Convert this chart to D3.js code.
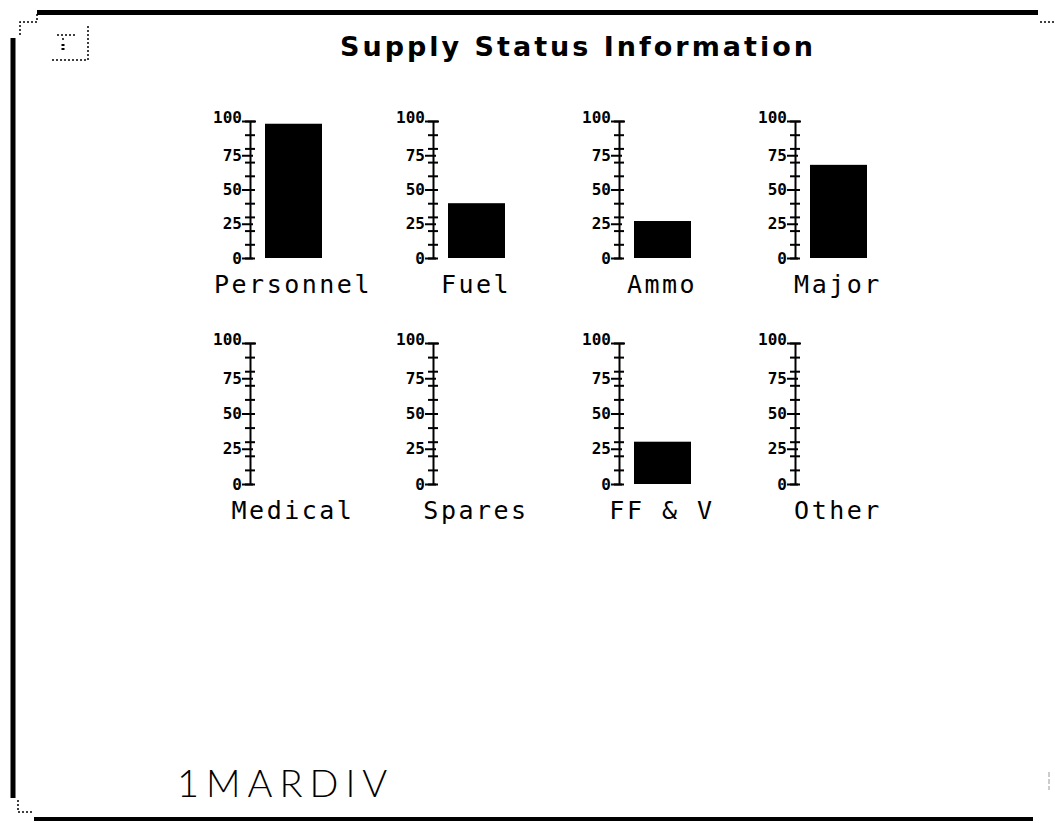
<!DOCTYPE html>
<html>
<head>
    <meta charset="utf-8">
    <style>
        body {
            margin: 0;
            background: white;
        }
        svg {
            display: block;
            background-color: white;
        }
        .title {
            font-family: 'DejaVu Sans', sans-serif;
            font-weight: bold;
            font-size: 27px;
            letter-spacing: 3px;
        }
        .cat {
            font-family: 'DejaVu Sans Mono', monospace;
            font-size: 25px;
            letter-spacing: 2.5px;
        }
        .axis text {
            font-family: 'DejaVu Sans Mono', monospace;
            font-weight: bold;
            font-size: 16px;
            letter-spacing: 0px;
            fill: black;
        }
        .axis line, .axis path {
            stroke: black;
            stroke-width: 2px;
        }
        .unit {
            font-family: Lato, 'Open Sans', sans-serif;
            font-weight: 300;
            font-size: 38px;
            letter-spacing: 7px;
        }
    </style>
</head>
<body>
    <svg width="1055" height="823" id="svg1"></svg>

<script src="https://d3js.org/d3.v7.min.js"></script>
<script>
    // supply levels, percent of requirement
    const categories = ["Personnel", "Fuel", "Ammo", "Major", "Medical", "Spares", "FF & V", "Other"]
    const values = [98, 40, 27, 68, 0, 0, 30, 0]
    const labelTicks = [0, 25, 50, 75, 100]
    const minorTicks = [0, 10, 20, 30, 40, 50, 60, 70, 80, 90, 100]
    const titleText = "Supply Status Information"
    const unitText = "1MARDIV"

    let svg1 = d3.select("#svg1")

    // frame round the window
    let frame = svg1.append("g")
    frame.append("line").attr("x1", 37).attr("x2", 1038).attr("y1", 12.5).attr("y2", 12.5)
        .attr("stroke", "black").attr("stroke-width", 5)
    frame.append("line").attr("x1", 13).attr("x2", 13).attr("y1", 38).attr("y2", 798)
        .attr("stroke", "black").attr("stroke-width", 5)
    frame.append("line").attr("x1", 34).attr("x2", 1033).attr("y1", 819).attr("y2", 819)
        .attr("stroke", "black").attr("stroke-width", 4)
    frame.append("path").attr("d", "M37,14 V22 H20 V37")
        .attr("fill", "none").attr("stroke", "black").attr("stroke-width", 1.5).attr("stroke-dasharray", "2,2")
    frame.append("path").attr("d", "M18,800 V812 H33")
        .attr("fill", "none").attr("stroke", "black").attr("stroke-width", 1.5).attr("stroke-dasharray", "2,2")
    frame.append("path").attr("d", "M1040,22 H1054")
        .attr("fill", "none").attr("stroke", "black").attr("stroke-width", 1.5).attr("stroke-dasharray", "2,2")
    frame.append("path").attr("d", "M1049,772 V790")
        .attr("fill", "none").attr("stroke", "#999").attr("stroke-width", 1).attr("stroke-dasharray", "5,2")

    // little window icon, top left
    let icon = svg1.append("g").attr("fill", "none").attr("stroke", "black")
        .attr("stroke-width", 1.5).attr("stroke-dasharray", "2,2")
    icon.append("path").attr("d", "M88,26 V60 H50")
    icon.append("path").attr("d", "M57,35 H77")
    icon.append("path").attr("d", "M63,38 V42")
    icon.append("line").attr("x1", 63).attr("x2", 63).attr("y1", 44).attr("y2", 50)
        .attr("stroke-dasharray", null).attr("stroke-width", 3)

    svg1.append("text")
        .attr("class", "title")
        .attr("x", 578)
        .attr("y", 56)
        .attr("text-anchor", "middle")
        .text(titleText)

    // panel layout
    let colX = [250, 433, 619, 795]
    let rowBottom = [258, 484]
    let rowHeight = [137, 141]
    let barOffset = 15, barWidth = 57

    categories.forEach((cat, i) => {
        let col = i % 4, row = Math.floor(i / 4)
        let ax = colX[col]
        let y = d3.scaleLinear()
            .domain([0, 100])
            .range([rowBottom[row], rowBottom[row] - rowHeight[row]])

        let g = svg1.append("g")

        // minor ticks every 10, crossing the axis
        g.append("g")
            .attr("class", "axis")
            .attr("transform", `translate(${ax},0)`)
            .call(d3.axisLeft(y).tickValues(minorTicks).tickSize(5).tickSizeOuter(0).tickFormat(""))
            .call(a => a.selectAll(".tick line").attr("x1", 5))

        // labelled ticks
        g.append("g")
            .attr("class", "axis")
            .attr("transform", `translate(${ax},0)`)
            .call(d3.axisLeft(y).tickValues(labelTicks).tickSize(8).tickSizeOuter(0).tickPadding(0))
            .call(a => a.select(".domain").remove())
            .call(a => a.selectAll(".tick line").attr("x1", d => d == 100 ? 6 : 3))
            .call(a => a.selectAll(".tick text").attr("dy", d => d == 100 ? "0.1em" : "0.32em"))

        g.append("rect")
            .attr("x", ax + barOffset)
            .attr("width", barWidth)
            .attr("y", y(values[i]))
            .attr("height", y(0) - y(values[i]))
            .attr("fill", "black")

        g.append("text")
            .attr("class", "cat")
            .attr("x", ax + 43)
            .attr("y", rowBottom[row] + 35)
            .attr("text-anchor", "middle")
            .text(cat)
    })

    svg1.append("text")
        .attr("class", "unit")
        .attr("x", 177)
        .attr("y", 797)
        .text(unitText)
</script>
</body>
</html>
